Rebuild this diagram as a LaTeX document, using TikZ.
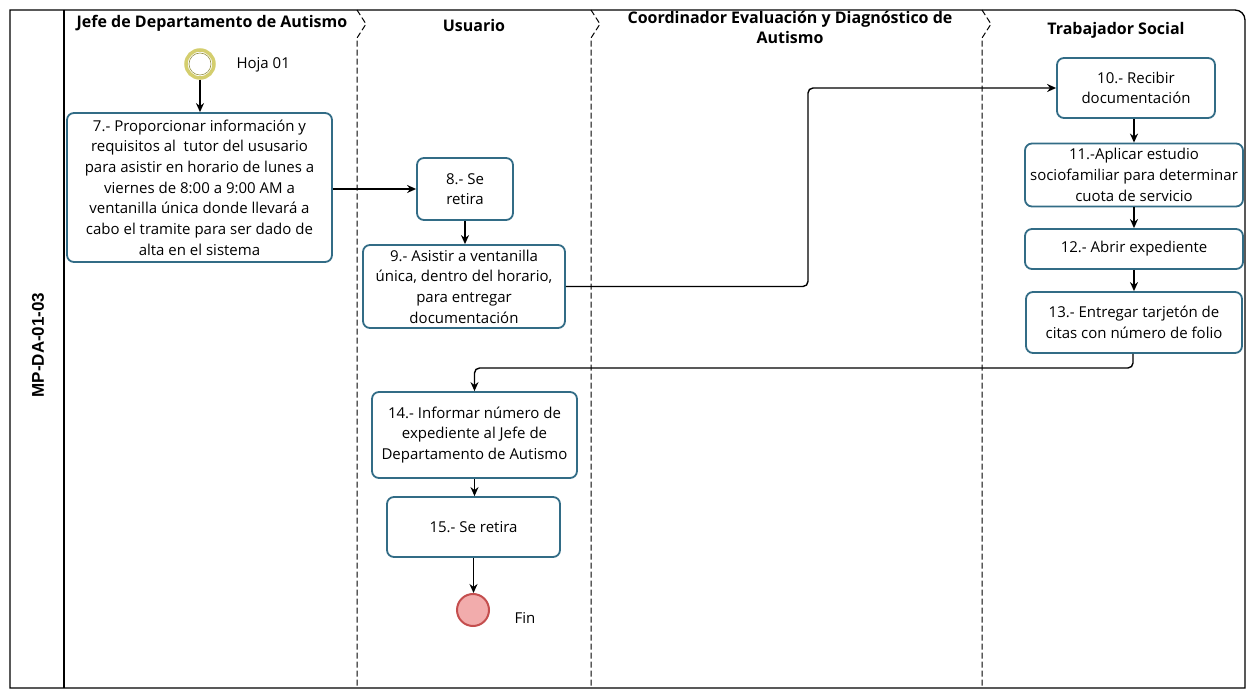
\documentclass[tikz,border=0pt]{standalone}
\usepackage{fontspec}
\setmainfont{Open Sans}
\newfontfamily\codefont{Liberation Sans}
\usetikzlibrary{arrows.meta}
\definecolor{boxc}{RGB}{50,108,134}
\definecolor{startc}{RGB}{212,206,110}
\definecolor{startd}{RGB}{150,146,70}
\definecolor{endfill}{RGB}{242,172,172}
\definecolor{endline}{RGB}{196,78,78}
\begin{document}
\begin{tikzpicture}[x=1pt,y=-1pt,
  proc/.style={draw=boxc, line width=1.8pt, rounded corners=7pt, fill=white, align=center,
    font=\fontsize{15}{20.7}\selectfont, inner sep=0pt},
  lanehead/.style={font=\bfseries\fontsize{16}{20}\selectfont, align=center},
  lbl/.style={font=\fontsize{15}{18}\selectfont},
  flow/.style={line width=1.4pt, -{Stealth[length=9pt,width=8pt]}},
  lanesep/.style={line width=1pt, black, dash pattern=on 6pt off 3pt},
  frame/.style={line width=1.3pt}
]
\useasboundingbox (0,0) rectangle (1254,692);
% frame
\draw[frame] (1235,10) -- (10,10) -- (10,688) -- (1245,688) -- (1245,20) to[out=90,in=0] (1235,10);
\draw[frame] (64,10) -- (64,688);
% lane separators with chevrons
\foreach \xs in {357,591,982}{
  \draw[lanesep] (\xs,10) -- (\xs+9,24) -- (\xs,38) -- (\xs,688);
}
% lane headers
\node[lanehead] (h1) at (212,23) {Jefe de Departamento de Autismo};
\node[lanehead] (h2) at (474,26) {Usuario};
\node[lanehead] (h3) at (790,27) {Coordinador Evaluación y Diagnóstico de\\Autismo};
\node[lanehead] (h4) at (1116,30) {Trabajador Social};
\node[font=\codefont\bfseries\fontsize{17}{18}\selectfont, rotate=90] (code) at (38,345) {MP-DA-01-03};
% events
\node[circle, draw=startc, line width=3.5pt, fill=white, minimum size=28pt, inner sep=0pt] (start) at (200,64) {};
\draw[startd, line width=0.6pt] (start.center) circle (11pt);
\node[lbl, anchor=west] (hoja) at (233,65) {Hoja 01};
\node[circle, draw=endline, line width=2pt, fill=endfill, minimum size=32pt, inner sep=0pt] (fin) at (473,610) {};
\node[lbl, anchor=west] (finl) at (511,618) {Fin};
% tasks
\node[proc, minimum width=265pt, minimum height=149pt] (b7) at (199.5,187.5)
  {7.- Proporcionar información y\\requisitos al\ \ tutor del ususario\\para asistir en horario de lunes a\\viernes de 8:00 a 9:00 AM a\\ventanilla única donde llevará a\\cabo el tramite para ser dado de\\alta en el sistema};
\node[proc, minimum width=96pt, minimum height=62pt] (b8) at (465,189) {8.- Se\\retira};
\node[proc, minimum width=202pt, minimum height=83pt] (b9) at (464,286.5)
  {9.- Asistir a ventanilla\\única, dentro del horario,\\para entregar\\documentación};
\node[proc, minimum width=158pt, minimum height=60pt] (b10) at (1136,88) {10.- Recibir\\documentación};
\node[proc, minimum width=218pt, minimum height=63pt] (b11) at (1134,175)
  {11.-Aplicar estudio\\sociofamiliar para determinar\\cuota de servicio};
\node[proc, minimum width=218pt, minimum height=40pt] (b12) at (1134,249) {12.- Abrir expediente};
\node[proc, minimum width=216pt, minimum height=61pt] (b13) at (1134,322.5)
  {13.- Entregar tarjetón de\\citas con número de folio};
\node[proc, minimum width=205pt, minimum height=86pt] (b14) at (474.5,435)
  {14.- Informar número de\\expediente al Jefe de\\Departamento de Autismo};
\node[proc, minimum width=173pt, minimum height=60pt] (b15) at (473.5,527) {15.- Se retira};
% connectors
\coordinate (k1) at (808,286.5);
\coordinate (k2) at (1133,368);
\draw[flow] (start) -- (start |- b7.north);
\draw[flow] (b7.east |- b8.west) -- (b8.west);
\draw[flow] (b8.south) -- (b8.south |- b9.north);
\draw[flow, rounded corners=5pt] (b9.east) -- (k1) |- (b10.west);
\draw[flow] (b10.south -| b11.north) -- (b11.north);
\draw[flow] (b11.south) -- (b12.north);
\draw[flow] (b12.south) -- (b13.north);
\draw[flow, rounded corners=5pt] (b13.south -| k2) -- (k2) -| (b14.north);
\draw[flow] (b14.south) -- (b14.south |- b15.north);
\draw[flow] (b15.south) -- (b15.south |- fin.north);
\end{tikzpicture}
\end{document}
